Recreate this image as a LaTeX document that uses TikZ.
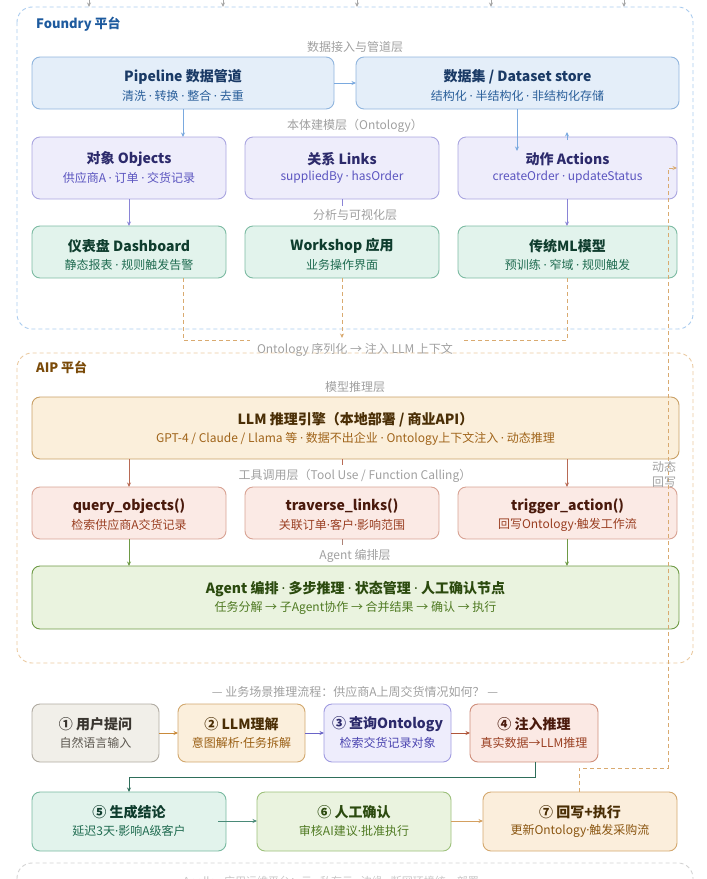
\documentclass[tikz,border=0pt]{standalone}
\usepackage{fontspec}
\usepackage{newunicodechar}
\setmainfont{Noto Sans CJK SC}
\newfontfamily\dotfont{Noto Sans}
\newunicodechar{·}{{\dotfont\char"00B7}}
\usetikzlibrary{arrows.meta}
% colour sets: F fill, D border, T title, S subtitle
\definecolor{plF}{HTML}{E4EEF9}\definecolor{plD}{HTML}{90B5DE}\definecolor{plT}{HTML}{1A3A66}\definecolor{plS}{HTML}{2A5F9A}
\definecolor{onF}{HTML}{EEEDFB}\definecolor{onD}{HTML}{AAA6E0}\definecolor{onT}{HTML}{2C2A6B}\definecolor{onS}{HTML}{5B55C0}
\definecolor{anF}{HTML}{E2F3EC}\definecolor{anD}{HTML}{7DBBA3}\definecolor{anT}{HTML}{0F3D2E}\definecolor{anS}{HTML}{1F6B50}
\definecolor{llF}{HTML}{FBEFDB}\definecolor{llD}{HTML}{C9A066}\definecolor{llT}{HTML}{4A2E05}\definecolor{llS}{HTML}{A0641A}
\definecolor{tlF}{HTML}{FBEAE5}\definecolor{tlD}{HTML}{D8A394}\definecolor{tlT}{HTML}{4A1A0C}\definecolor{tlS}{HTML}{9A3F22}
\definecolor{agF}{HTML}{EAF3DF}\definecolor{agD}{HTML}{6E9A45}\definecolor{agT}{HTML}{2B4A0E}\definecolor{agS}{HTML}{4F7A22}
\definecolor{f1F}{HTML}{F1EFE9}\definecolor{f1D}{HTML}{B0ABA2}\definecolor{f1T}{HTML}{3A3630}\definecolor{f1S}{HTML}{5C574F}
\definecolor{f2F}{HTML}{FBEFDC}\definecolor{f2D}{HTML}{D2A86E}\definecolor{f2T}{HTML}{4A2E05}\definecolor{f2S}{HTML}{9A5F14}
\definecolor{f3F}{HTML}{EEEDFC}\definecolor{f3D}{HTML}{A09BE0}\definecolor{f3T}{HTML}{2C2A6B}\definecolor{f3S}{HTML}{4B45B0}
\definecolor{f4F}{HTML}{FBE9E4}\definecolor{f4D}{HTML}{CF8F7C}\definecolor{f4T}{HTML}{4A1A0C}\definecolor{f4S}{HTML}{9A3F22}
\definecolor{f5F}{HTML}{E2F3EC}\definecolor{f5D}{HTML}{78B9A0}\definecolor{f5T}{HTML}{0F3D2E}\definecolor{f5S}{HTML}{1F6B50}
\definecolor{f6F}{HTML}{EAF3DF}\definecolor{f6D}{HTML}{9CC07A}\definecolor{f6T}{HTML}{2B4A0E}\definecolor{f6S}{HTML}{4F7A22}
\definecolor{f7F}{HTML}{FBEEDC}\definecolor{f7D}{HTML}{D4A86E}\definecolor{f7T}{HTML}{4A2E05}\definecolor{f7S}{HTML}{8A5510}
\definecolor{fdyline}{HTML}{A9CBEE}\definecolor{fdytext}{HTML}{1D5A9E}
\definecolor{aipline}{HTML}{EAC9A0}\definecolor{aiptext}{HTML}{7A4A08}
\definecolor{layergray}{HTML}{A0A0A0}
\definecolor{bluearr}{HTML}{7AA9DF}\definecolor{purparr}{HTML}{8A84D6}
\definecolor{brarr}{HTML}{B86A55}\definecolor{grarr}{HTML}{6E9A45}
\definecolor{dashor}{HTML}{D9AA70}
\definecolor{a12}{HTML}{C98A3A}\definecolor{a23}{HTML}{6A64C8}\definecolor{a34}{HTML}{B0553A}
\definecolor{a45}{HTML}{2E6E5A}\definecolor{a56}{HTML}{4A8A78}\definecolor{a67}{HTML}{D4A060}
\newcommand{\mybox}[9]{%
  \node[boxbase, fill=#6F, draw=#6D, minimum width={#4-#2}, minimum height={#5-#3}] (#1) at ({(#2+#4)/2},{(#3+#5)/2}) {};
  \node[titlefont, text=#6T] (#1-t) at ({(#2+#4)/2},#7) {#8};
  \node[subfont, text=#6S] (#1-s) at ({(#2+#4)/2},{#7+18.5}) {#9};
}
\begin{document}
\begin{tikzpicture}[x=1pt,y=-1pt,
  boxbase/.style={rectangle, rounded corners=8pt, line width=0.9pt, inner sep=0pt, outer sep=0pt},
  titlefont/.style={inner sep=0pt, font=\fontsize{14}{16}\selectfont\bfseries},
  subfont/.style={inner sep=0pt, font=\fontsize{12}{14}\selectfont},
  layerlab/.style={inner sep=0pt, text=layergray, font=\fontsize{12}{14}\selectfont},
  container/.style={rounded corners=15pt, line width=0.9pt, dash pattern=on 4pt off 3pt},
  arr/.style={line width=0.9pt, -{Stealth[length=4.5pt,width=4pt]}},
  plain/.style={line width=0.9pt}
]
\useasboundingbox (0,0) rectangle (707,879);

% incoming arrows at the top
\foreach \i/\xx in {1/89,2/223,3/357,4/491,5/624}{
  \coordinate (src\i) at (\xx,-12);
  \coordinate (dst\i) at (\xx,7);
  \draw[arr, draw=gray!70] (src\i) -- (dst\i);
}

% ---------- Foundry ----------
\draw[container, draw=fdyline] (17,7) rectangle (693,329);
\node[anchor=west, inner sep=0pt, text=fdytext, font=\fontsize{13}{15}\selectfont\bfseries] (fdy) at (36,24) {Foundry 平台};
\node[layerlab] (l1) at (355,47) {数据接入与管道层};
\mybox{pipe}{32}{57}{334}{109}{pl}{77}{Pipeline 数据管道}{清洗 · 转换 · 整合 · 去重}
\mybox{data}{356}{57}{679}{109}{pl}{77}{数据集 / Dataset store}{结构化 · 半结构化 · 非结构化存储}
\node[layerlab] (l2) at (355,126) {本体建模层（Ontology）};
\mybox{obj}{32}{137}{226}{199}{on}{159}{对象 Objects}{供应商A · 订单 · 交货记录}
\mybox{lnk}{245}{137}{439}{199}{on}{159}{关系 Links}{suppliedBy · hasOrder}
\mybox{act}{458}{137}{677}{199}{on}{159}{动作 Actions}{createOrder · updateStatus}
\node[layerlab] (l3) at (355,215) {分析与可视化层};
\mybox{dash}{32}{226}{226}{278}{an}{246}{仪表盘 Dashboard}{静态报表 · 规则触发告警}
\mybox{work}{245}{226}{439}{278}{an}{246}{Workshop 应用}{业务操作界面}
\mybox{ml}{458}{226}{677}{278}{an}{246}{传统ML模型}{预训练 · 窄域 · 规则触发}

\draw[arr, draw=bluearr] (pipe.east |- 0,83) -- (data.west |- 0,83);
\draw[arr, draw=bluearr] (pipe.south -| 183,0) -- (obj.north -| 183,0);
\draw[arr, draw=bluearr] (data.south -| 517,0) -- (517,151);
\draw[arr, draw=bluearr] (act.north -| 567,0) ++(0,3) -- (567,132);
\draw[arr, draw=purparr] (obj.south -| 129,0) -- (dash.north -| 129,0);
\draw[arr, draw=purparr] (act.south -| 567,0) -- (ml.north -| 567,0);
\coordinate (lnkstub) at (342,206);
\draw[plain, draw=purparr] (lnk.south -| 342,0) -- (lnkstub);

% serialisation into AIP
\coordinate (serL) at (250,340);
\coordinate (serR) at (463,340);
\coordinate (serM) at (342,338);
\draw[plain, draw=dashor, dash pattern=on 4pt off 3pt] (dash.south -| 183,0) |- (serL);
\draw[plain, draw=dashor, dash pattern=on 4pt off 3pt] (ml.south -| 567,0) |- (serR);
\draw[arr, draw=dashor, dash pattern=on 4pt off 3pt] (work.south -| 342,0) -- (serM);
\node[layerlab] (ser) at (355,350) {Ontology 序列化 → 注入 LLM 上下文};

% ---------- AIP ----------
\draw[container, draw=aipline] (17,353) rectangle (693,663);
\node[anchor=west, inner sep=0pt, text=aiptext, font=\fontsize{13}{15}\selectfont\bfseries] (aip) at (36,367) {AIP 平台};
\node[layerlab] (l4) at (355,387) {模型推理层};
\mybox{llm}{32}{397}{679}{459}{ll}{420}{LLM 推理引擎（本地部署 / 商业API）}{GPT-4 / Claude / Llama 等 · 数据不出企业 · Ontology上下文注入 · 动态推理}
\node[layerlab] (l5) at (355,476) {工具调用层（Tool Use / Function Calling）};
\mybox{tq}{32}{487}{226}{539}{tl}{506}{query\_objects()}{检索供应商A交货记录}
\mybox{tt}{245}{487}{439}{539}{tl}{506}{traverse\_links()}{关联订单·客户·影响范围}
\mybox{ta}{458}{487}{677}{539}{tl}{506}{trigger\_action()}{回写Ontology·触发工作流}
\node[layerlab] (l6) at (355,556) {Agent 编排层};
\mybox{agent}{32}{566}{679}{629}{ag}{589}{Agent 编排 · 多步推理 · 状态管理 · 人工确认节点}{任务分解 → 子Agent协作 → 合并结果 → 确认 → 执行}

\draw[arr, draw=brarr] (llm.south -| 129,0) -- (tq.north -| 129,0);
\draw[arr, draw=brarr] (llm.south -| 567,0) -- (ta.north -| 567,0);
\coordinate (llmstub) at (342,465);
\draw[plain, draw=brarr] (llm.south -| 342,0) -- (llmstub);
\draw[arr, draw=grarr] (tq.south -| 129,0) -- (agent.north -| 129,0);
\draw[arr, draw=grarr] (ta.south -| 567,0) -- (agent.north -| 567,0);
\coordinate (tlstub) at (342,545);
\draw[plain, draw=tlD!80!black] (tt.south -| 342,0) -- (tlstub);

% ---------- business flow ----------
\node[layerlab] (l7) at (355,692) {— 业务场景推理流程：供应商A上周交货情况如何？ —};
\mybox{s1}{32}{704}{159}{762}{f1}{724}{① 用户提问}{自然语言输入}
\mybox{s2}{178}{704}{305}{762}{f2}{724}{② LLM理解}{意图解析·任务拆解}
\mybox{s3}{324}{704}{451}{762}{f3}{724}{③ 查询Ontology}{检索交货记录对象}
\mybox{s4}{470}{704}{598}{762}{f4}{724}{④ 注入推理}{真实数据→LLM推理}
\mybox{s5}{32}{792}{226}{851}{f5}{812}{⑤ 生成结论}{延迟3天·影响A级客户}
\mybox{s6}{257}{792}{451}{851}{f6}{812}{⑥ 人工确认}{审核AI建议·批准执行}
\mybox{s7}{483}{792}{677}{851}{f7}{812}{⑦ 回写+执行}{更新Ontology·触发采购流}

\draw[arr, draw=a12] (s1.east |- 0,733) -- (s2.west |- 0,733);
\draw[arr, draw=a23] (s2.east |- 0,733) -- (s3.west |- 0,733);
\draw[arr, draw=a34] (s3.east |- 0,733) -- (s4.west |- 0,733);
\coordinate (turnA) at (535,777);
\coordinate (turnB) at (129,777);
\draw[arr, draw=a45] (s4.south -| 535,0) -- (turnA) -- (turnB) -- (s5.north -| 129,0);
\coordinate (s5out) at (218,821);
\draw[arr, draw=a56] (s5out) -- (s6.west |- 0,821);
\draw[arr, draw=a67] (s6.east |- 0,821) -- (s7.west |- 0,821);

% dynamic write-back
\coordinate (wb1) at (579,768);
\coordinate (wb2) at (668,768);
\coordinate (wb3) at (668,168);
\draw[arr, draw=dashor, dash pattern=on 4pt off 3pt] (s7.north -| 579,0) -- (wb1) -- (wb2) -- (wb3) -- (act.east);
\node[layerlab, align=center, font=\fontsize{12}{15}\selectfont] (wbl) at (664,474.5) {动态\\回写};

% ---------- Apollo ----------
\draw[container, draw=gray!35] (17,863) rectangle (693,940);
\node[anchor=west, inner sep=0pt, text=gray!45, font=\fontsize{11}{13}\selectfont] (apl) at (183,882) {Apollo · 应用运维平台：云 · 私有云 · 边缘 · 断网环境统一部署};
\end{tikzpicture}
\end{document}
